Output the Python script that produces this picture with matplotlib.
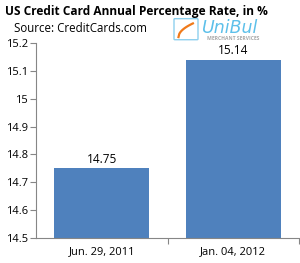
import matplotlib.pyplot as plt
from matplotlib.patches import FancyBboxPatch
import numpy as np

categories = ["Jun. 29, 2011", "Jan. 04, 2012"]
values = [14.75, 15.14]
yticks = [14.5, 14.6, 14.7, 14.8, 14.9, 15.0, 15.1, 15.2]
ytick_labels = ["14.5", "14.6", "14.7", "14.8", "14.9", "15", "15.1", "15.2"]

plt.rcParams['font.family'] = ['Open Sans', 'DejaVu Sans']

fig = plt.figure(figsize=(3.0, 2.63), dpi=100)
ax = fig.add_axes([0.12, 0.095, 0.877, 0.7415])

x = np.arange(len(categories))
bars = ax.bar(x, values, width=0.72, color="#4F81BD", zorder=2)
ax.set_xlim(-0.5, 1.5)
ax.set_ylim(14.5, 15.2)
ax.set_yticks(yticks)
ax.set_yticklabels(ytick_labels, fontsize=8)
ax.set_xticks([0.5, 1.5], minor=False)
ax.set_xticklabels([])
ax.set_xticks(x, minor=True)
ax.set_xticklabels(categories, minor=True, fontsize=8)
ax.tick_params(axis='x', which='minor', length=0, pad=6)
ax.tick_params(axis='x', which='major', length=4, color="#868686", direction='out')
ax.tick_params(axis='y', length=4, color="#868686", direction='out', pad=2)
for s in ['top', 'right']:
    ax.spines[s].set_visible(False)
for s in ['left', 'bottom']:
    ax.spines[s].set_color("#868686")
    ax.spines[s].set_linewidth(0.8)

for xi, v in zip(x, values):
    ax.text(xi, v + 0.01, f"{v:.2f}", ha='center', va='bottom', fontsize=8.5)

fig.text(0.018, 0.955, "US Credit Card Annual Percentage Rate, in %", fontsize=8.6,
         fontweight='bold', ha='left', va='center')
fig.text(0.048, 0.893, "Source: CreditCards.com", fontsize=8.3, ha='left', va='center')

# logo
box = FancyBboxPatch((0.583, 0.852), 0.074, 0.074, boxstyle="round,pad=0.003",
                     transform=fig.transFigure, facecolor='white',
                     edgecolor='#8ED0EE', linewidth=1.0)
fig.add_artist(box)
t = np.linspace(0, 1, 20)
fig.add_artist(plt.Line2D(0.595 + 0.048 * t, 0.859 + 0.052 * t ** 0.5,
                          transform=fig.transFigure, color='#F07A1A', linewidth=1.6))
fig.text(0.672, 0.893, "UniBul", fontsize=12.5, style='italic', color='#5DC0EA',
         ha='left', va='center', family=['DejaVu Sans'])
fig.text(0.69, 0.852, "MERCHANT SERVICES", fontsize=3.6, color='#A8A8A8',
         ha='left', va='center', fontweight='bold')

fig.savefig("out.png", dpi=100)
